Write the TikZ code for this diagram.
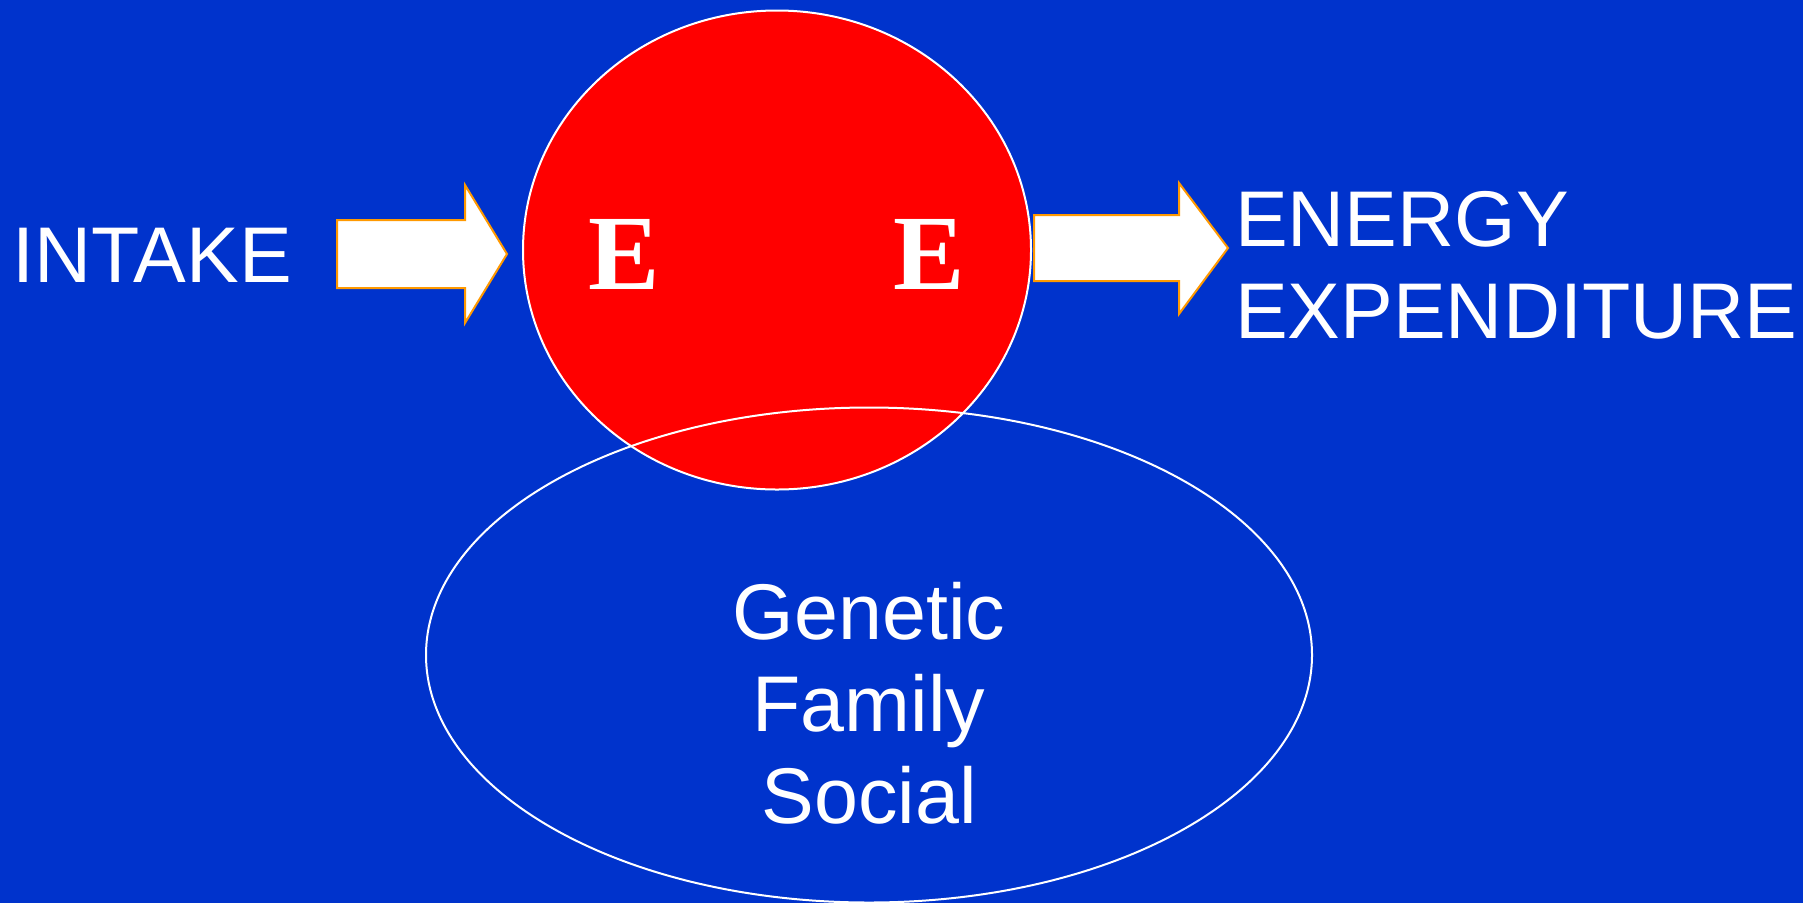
\documentclass[tikz,border=0pt]{standalone}
\usepackage{fontspec}
\setmainfont{Liberation Sans}
\newfontfamily\boldserif{Liberation Serif}[BoldFont={Liberation Serif Bold}]
\usetikzlibrary{positioning}
\definecolor{slideblue}{RGB}{0,51,204}
\definecolor{arroworange}{RGB}{255,153,0}

\begin{document}
\begin{tikzpicture}[x=1pt,y=-1pt,inner sep=0pt]
      % Styles
      \tikzset{label/.style={text=white,font=\fontsize{79}{92}\selectfont},
               bigE/.style={text=white,font=\boldserif\bfseries\fontsize{107}{107}\selectfont},
               blockarrow/.style={fill=white,draw=arroworange,line width=2pt,line join=miter},
               rim/.style={draw=white,line width=2pt}}

      % background
      \fill[slideblue] (0,0) rectangle (1803,903);
      \useasboundingbox (0,0) rectangle (1803,903);

      % energy balance circle and the influence ellipse
      \filldraw[fill=red,rim] (777,250) ellipse [x radius=254,y radius=239.5];
      \draw[rim] (869,655) ellipse [x radius=443,y radius=247.5];

      % block arrows in and out
      \draw[blockarrow] (337,220) -- (465,220) -- (465,185) -- (507,254)
                        -- (465,323) -- (465,288) -- (337,288) -- cycle;
      \draw[blockarrow] (1034,215) -- (1179,215) -- (1179,183) -- (1228,248)
                        -- (1179,314) -- (1179,281) -- (1034,281) -- cycle;

      % texts (base anchor = last line)
      \node[label,anchor=base west] (intake) at (12,282) {INTAKE};
      \node[bigE,anchor=base] (eIn) at (624,289) {E};
      \node[bigE,anchor=base] (eOut) at (929,289) {E};
      \node[label,anchor=base west,align=left] (expend) at (1235,338)
           {ENERGY\\EXPENDITURE};
      \node[label,anchor=base,align=center] (factors) at (869,823)
           {Genetic\\Family\\Social};
    \end{tikzpicture}
\end{document}
